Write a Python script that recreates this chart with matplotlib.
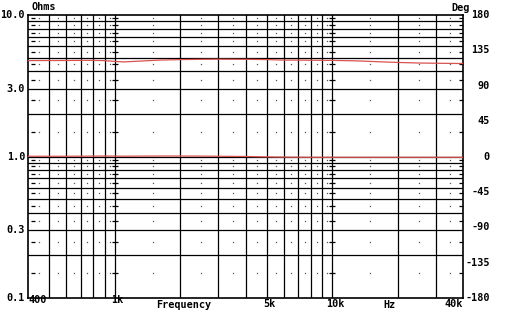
import numpy as np
import matplotlib
matplotlib.use("Agg")
import matplotlib.pyplot as plt

# Data
freq = [400, 500, 600, 700, 800, 900, 1000, 1100, 1300, 1600, 2000, 2500, 3000, 4000, 5000, 6000, 7000, 8000, 10000, 13000, 16000, 20000, 25000, 30000, 40000]
impedance = [4.76, 4.77, 4.77, 4.78, 4.78, 4.76, 4.70, 4.66, 4.72, 4.80, 4.84, 4.86, 4.87, 4.86, 4.84, 4.80, 4.80, 4.79, 4.78, 4.74, 4.68, 4.62, 4.58, 4.56, 4.54]
phase = [0.3, 0.3, 0.3, 0.4, 0.5, 0.6, 0.5, 0.4, 0.5, 0.6, 0.6, 0.5, 0.3, 0.0, -0.5, -0.8, -0.9, -1.0, -1.0, -1.0, -1.0, -1.0, -1.0, -1.0, -1.0]

left_ticks = [10.0, 3.0, 1.0, 0.3, 0.1]
left_labels = ["10.0", "3.0", "1.0", "0.3", "0.1"]
right_ticks = [180, 135, 90, 45, 0, -45, -90, -135, -180]
x_labels = [(400, "400"), (1000, "1k"), (5000, "5k"), (10000, "10k"), (40000, "40k")]

FONT = dict(family="DejaVu Sans Mono", fontweight="bold", fontsize=7.3)

fig = plt.figure(figsize=(5.12, 3.31), dpi=100)
L, R, T, B = 28/512, 463/512, 1-15/331, 1-298/331
ax = fig.add_axes([L, B, R-L, T-B])
ax.set_xscale("log"); ax.set_yscale("log")
ax.set_xlim(400, 40000); ax.set_ylim(0.1, 10)
ax.set_xticks([]); ax.set_yticks([])
ax.minorticks_off()
for s in ax.spines.values():
    s.set_linewidth(1.2); s.set_color("black")

# grid lines
vlines = [500, 600, 700, 800, 900, 1000] + list(range(2000, 10001, 1000)) + [20000, 30000]
hlines = [0.2, 0.3, 0.4, 0.5, 0.6, 0.7, 0.8, 0.9, 1, 2, 3, 4, 5, 6, 7, 8, 9]
for v in vlines:
    ax.axvline(v, color="black", lw=0.9, zorder=1)
for h in hlines:
    ax.axhline(h, color="black", lw=0.9, zorder=1)

# dots at midpoints
xd = [450, 550, 650, 750, 850, 950] + [k*1000 + 500 for k in range(1, 10)] + [15000, 25000, 35000]
yd = [0.15 + 0.1*k for k in range(9)] + [1.5 + k for k in range(9)]
XX, YY = np.meshgrid(xd, yd)
ax.plot(XX.ravel(), YY.ravel(), ls="none", marker="s", ms=0.9, color="#555555", mew=0, zorder=1.5)
# small dashes on decade lines and edges
for xv in [1000, 10000]:
    ax.plot([xv]*len(yd), yd, ls="none", marker="_", ms=4, mew=0.9, color="black", zorder=1.5)
ax.plot([420]*len(yd), yd, ls="none", marker="_", ms=3, mew=0.9, color="black", zorder=1.5)
ax.plot([39000]*len(yd), yd, ls="none", marker="_", ms=3, mew=0.9, color="black", zorder=1.5)

ax.plot(freq, impedance, color="#d9534f", lw=0.9, zorder=3)

ax2 = ax.twinx()
ax2.set_ylim(-180, 180)
ax2.set_yticks([]); ax2.set_xticks([])
for s in ax2.spines.values():
    s.set_visible(False)
ax2.plot(freq, phase, color="#d9534f", lw=0.9, zorder=3)

# text
for v, lab in zip(left_ticks, left_labels):
    yp = 1 - (15 + (1 - np.log10(v)) * 141.5) / 331
    fig.text(25/512, yp, lab, ha="right", va="center", **FONT)
for v in right_ticks:
    yp = 1 - (15 + (180 - v) / 360 * 283) / 331
    fig.text(490/512, yp, str(v), ha="right", va="center", **FONT)
fig.text(31/512, 1-7/331, "Ohms", ha="left", va="center", **FONT)
fig.text(470/512, 1-8/331, "Deg", ha="right", va="center", **FONT)
for f, lab in x_labels:
    xp = (28 + np.log10(f/400) * 217.5) / 512
    ha = "left" if f == 400 else ("right" if f == 40000 else "center")
    if f in (1000, 5000, 10000):
        xp += 3/512
    yp = 1 - (300 if f in (400, 1000) else 304) / 331
    fig.text(xp, yp, lab, ha=ha, va="center", **FONT)
fig.text(184/512, 1-305/331, "Frequency", ha="center", va="center", **FONT)
fig.text(389/512, 1-305/331, "Hz", ha="center", va="center", **FONT)

fig.savefig("out.png", dpi=100)
